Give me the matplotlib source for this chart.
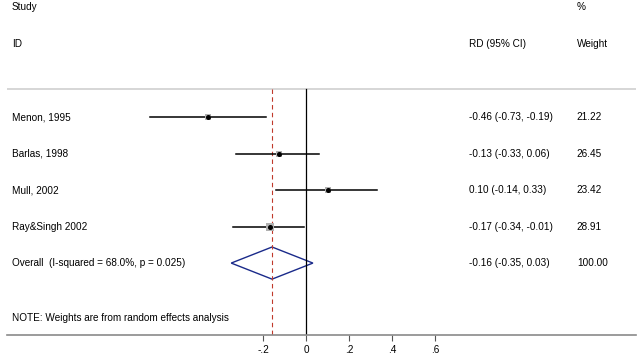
import matplotlib.pyplot as plt
from matplotlib.patches import Polygon

plt.rcParams['font.family'] = ['Liberation Sans', 'DejaVu Sans']

# data
studies = ["Menon, 1995", "Barlas, 1998", "Mull, 2002", "Ray&Singh 2002"]
rd = [-0.46, -0.13, 0.10, -0.17]
lo = [-0.73, -0.33, -0.14, -0.34]
hi = [-0.19, 0.06, 0.33, -0.01]
weights = [21.22, 26.45, 23.42, 28.91]
overall = (-0.16, -0.35, 0.03)
overall_label = "Overall  (I-squared = 68.0%, p = 0.025)"
ticks = [-0.2, 0, 0.2, 0.4, 0.6]
tick_labels = ["-.2", "0", ".2", ".4", ".6"]

fig = plt.figure(figsize=(6.4, 3.6), dpi=100)
ax = fig.add_axes([7 / 640, 25 / 360, 629 / 640, 335 / 360])
ax.set_xlim(-1.393, 1.533)
ax.set_ylim(5.97, -3.205)

fs = 7.2
x_lab, x_rd, x_w = -1.370, 0.755, 1.258

# header
ax.text(x_lab, -3, "Study", fontsize=fs, va='center')
ax.text(x_lab, -2, "ID", fontsize=fs, va='center')
ax.text(x_w, -3, "%", fontsize=fs, va='center')
ax.text(x_rd, -2, "RD (95% CI)", fontsize=fs, va='center')
ax.text(x_w, -2, "Weight", fontsize=fs, va='center')
ax.axhline(-0.77, color='#cfcfcf', lw=1.2)

# reference lines
ax.plot([0, 0], [-0.77, 5.97], color='black', lw=0.9)
ax.plot([overall[0], overall[0]], [-0.77, 5.97], color='#c0392b', lw=0.8, ls=(0, (4, 3)))

for i, name in enumerate(studies):
    ax.plot([lo[i], hi[i]], [i, i], color='black', lw=1.1)
    ax.plot(rd[i], i, marker='s', color='#b0b0b0', ms=weights[i] ** 0.5 * 0.95, mew=0)
    ax.plot(rd[i], i, marker='o', color='black', ms=2.6)
    ax.text(x_lab, i, name, fontsize=fs, va='center')
    ax.text(x_rd, i, "%.2f (%.2f, %.2f)" % (rd[i], lo[i], hi[i]), fontsize=fs, va='center')
    ax.text(x_w, i, "%.2f" % weights[i], fontsize=fs, va='center')

# overall diamond
n = len(studies)
est, olo, ohi = overall
ax.add_patch(Polygon([[olo, n], [est, n - 0.44], [ohi, n], [est, n + 0.44]],
                     closed=True, fill=False, edgecolor='#1a2a8a', lw=1.0))
ax.text(x_lab, n, overall_label, fontsize=fs, va='center')
ax.text(x_rd, n, "%.2f (%.2f, %.2f)" % overall, fontsize=fs, va='center')
ax.text(x_w, n, "%.2f" % 100, fontsize=fs, va='center')

ax.text(x_lab, 5.5, "NOTE: Weights are from random effects analysis", fontsize=fs, va='center')

# axis
for s in ['top', 'right', 'left']:
    ax.spines[s].set_visible(False)
ax.spines['bottom'].set_color('#8a8a8a')
ax.spines['bottom'].set_linewidth(1.2)
ax.set_yticks([])
ax.set_xticks(ticks)
ax.set_xticklabels(tick_labels, fontsize=fs)
ax.tick_params(axis='x', length=4, color='#555555', pad=3)

fig.savefig("out.png", dpi=100)
